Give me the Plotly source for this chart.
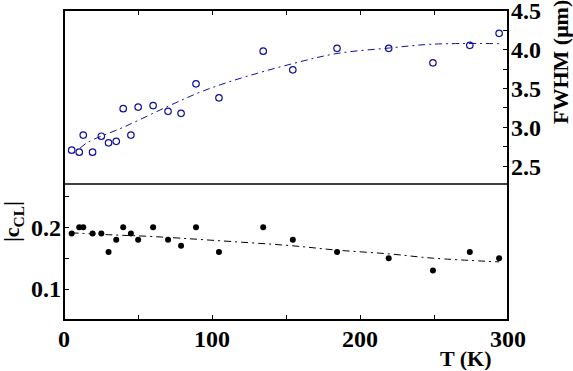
import plotly.graph_objects as go

# Temperature (K) of each measurement
T = [5.2, 10.3, 13, 19.3, 25.2, 30.1, 35.3, 40, 45.2, 50.1, 60.2, 70.3, 79.1,
     89.2, 104.7, 134.6, 154.6, 184.5, 219.4, 249.3, 274.2, 294]
# FWHM (um), top panel
fwhm = [2.705, 2.68, 2.90, 2.68, 2.885, 2.80, 2.82, 3.24, 2.90, 3.26, 3.28, 3.205,
        3.18, 3.56, 3.38, 3.98, 3.74, 4.017, 4.017, 3.83, 4.055, 4.21]
# |c_CL|, bottom panel
ccl = [0.19, 0.20, 0.20, 0.19, 0.19, 0.16, 0.18, 0.20, 0.19, 0.18, 0.20, 0.18,
       0.17, 0.20, 0.16, 0.20, 0.18, 0.16, 0.15, 0.13, 0.16, 0.15]

# fitted guide curves
fit_T_top = [10.8, 16.4, 40, 70.3, 91.7, 114, 154.6, 184.5, 219.4, 249, 294]
fit_fwhm = [2.73, 2.81, 3.0, 3.27, 3.45, 3.60, 3.82, 3.95, 4.02, 4.07, 4.077]
fit_T_bot = [5, 30, 60, 100, 154.6, 184.5, 219.4, 249.3, 294]
fit_ccl = [0.191, 0.188, 0.185, 0.179, 0.170, 0.163, 0.157, 0.150, 0.144]

x_ticks = [0, 100, 200, 300]
x_tick_text = ["0", "100", "200", "300"]
top_ticks = [2.5, 3.0, 3.5, 4.0, 4.5]
top_tick_text = ["2.5", "3.0", "3.5", "4.0", "4.5"]
bot_ticks = [0.1, 0.2]
bot_tick_text = ["0.1", "0.2"]

BLUE = "#1010a0"
FONT = "Liberation Serif"
TICKFONT = dict(family=FONT, size=24, weight="bold", color="black")
DASH = "7px,4px,2px,4px"

fig = go.Figure()
fig.add_trace(go.Scatter(x=fit_T_top, y=fit_fwhm, mode="lines",
                         line=dict(color=BLUE, width=1, dash=DASH, shape="spline"),
                         xaxis="x2", yaxis="y2", hoverinfo="skip"))
fig.add_trace(go.Scatter(x=T, y=fwhm, mode="markers",
                         marker=dict(symbol="circle-open", size=6.5, color=BLUE, line=dict(width=1.2, color=BLUE)),
                         xaxis="x2", yaxis="y2"))
fig.add_trace(go.Scatter(x=fit_T_bot, y=fit_ccl, mode="lines",
                         line=dict(color="black", width=1, dash=DASH, shape="spline"),
                         xaxis="x", yaxis="y", hoverinfo="skip"))
fig.add_trace(go.Scatter(x=T, y=ccl, mode="markers",
                         marker=dict(symbol="circle", size=6, color="black"),
                         xaxis="x", yaxis="y"))

split = 136 / 310
axis_common = dict(showgrid=False, zeroline=False, showline=False, automargin=False,
                   ticks="inside", tickcolor="black", ticklen=5, tickwidth=1)
minor_style = dict(ticks="inside", ticklen=5, tickcolor="black", tickwidth=1)

fig.update_layout(
    width=573, height=371,
    margin=dict(l=64, r=65, t=10, b=51, autoexpand=False),
    paper_bgcolor="white", plot_bgcolor="white",
    showlegend=False,
    font=dict(family=FONT, size=22, color="black"),
    xaxis=dict(domain=[0, 1], anchor="y", range=[0, 300], tickvals=x_ticks, ticktext=x_tick_text,
               minor=dict(tickvals=[50, 150, 250], **minor_style), ticklabelstandoff=2,
               tickfont=TICKFONT, **axis_common),
    yaxis=dict(domain=[0, split], anchor="x", range=[0.05, 0.27], tickvals=bot_ticks, ticktext=bot_tick_text,
               minor=dict(tickvals=[0.15, 0.25], **minor_style), ticklabelstandoff=2,
               tickfont=TICKFONT, **axis_common),
    xaxis2=dict(domain=[0, 1], anchor="y2", range=[0, 300], side="top", dtick=50, showticklabels=False,
                **axis_common),
    yaxis2=dict(domain=[split, 1], anchor="x2", side="right", range=[2.27, 4.51], tickvals=top_ticks,
                ticktext=top_tick_text, minor=dict(tickvals=[2.75, 3.25, 3.75, 4.25], **minor_style),
                ticklabelstandoff=2, ticklabeloverflow="allow", tickfont=TICKFONT, **axis_common),
    shapes=[
        dict(type="rect", xref="paper", yref="paper", x0=0, x1=1, y0=0, y1=1,
             line=dict(color="black", width=2), layer="above"),
        dict(type="line", xref="paper", yref="paper", x0=0, x1=1, y0=split, y1=split,
             line=dict(color="black", width=1.5), layer="above"),
    ],
    annotations=[
        dict(text="<b>FWHM (μm)</b>", x=(561 - 64) / 444, y=(320 - 62) / 310, xref="paper", yref="paper",
             textangle=-90, showarrow=False, font=dict(family=FONT, size=22), xanchor="center", yanchor="middle"),
        dict(text="<b>|c<sub>CL</sub>|</b>", x=(13 - 64) / 444, y=(320 - 222) / 310, xref="paper", yref="paper",
             textangle=-90, showarrow=False, font=dict(family=FONT, size=22), xanchor="center", yanchor="middle"),
        dict(text="<b>T (K)</b>", x=(466 - 64) / 444, y=(320 - 358) / 310, xref="paper", yref="paper",
             showarrow=False, font=dict(family=FONT, size=22), xanchor="center", yanchor="middle"),
    ],
)

fig.write_html("out.html", config={"displayModeBar": False},
               post_script="document.body.style.margin='0';document.documentElement.style.overflow='hidden';document.body.style.overflow='hidden';")
